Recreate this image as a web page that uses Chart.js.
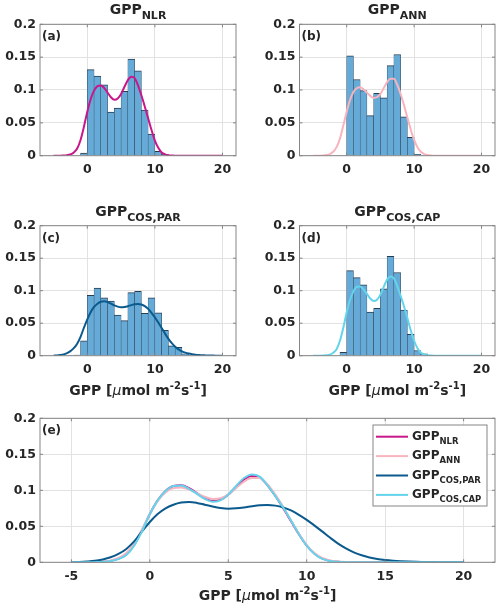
<!DOCTYPE html>
<html>
<head>
<meta charset="utf-8">
<script src="https://cdn.jsdelivr.net/npm/chart.js@4.4.1/dist/chart.umd.min.js"></script>
<style>
  html, body { margin: 0; padding: 0; background: #fff; }
  #wrap { position: relative; width: 500px; height: 608px; overflow: hidden; }
  .pane { position: absolute; }
</style>
</head>
<body>
<div id="wrap">
  <div class="pane" style="left:0;top:0"><canvas id="pa"></canvas></div>
  <div class="pane" style="left:250px;top:0"><canvas id="pb"></canvas></div>
  <div class="pane" style="left:0;top:185px"><canvas id="pc"></canvas></div>
  <div class="pane" style="left:250px;top:185px"><canvas id="pd"></canvas></div>
  <div class="pane" style="left:0;top:405px"><canvas id="pe"></canvas></div>
</div>
<script>
// ---- data ----
const kdeX = [-5,-4.5,-4,-3.5,-3,-2.5,-2,-1.5,-1,-0.5,0,0.5,1,1.5,2,2.5,3,3.5,4,4.5,5,5.5,6,6.5,7,7.5,8,8.5,9,9.5,10,10.5,11,11.5,12,12.5,13,13.5,14,14.5,15,15.5,16,16.5,17,17.5,18,18.5,19,19.5,20];

const kdeNLR = [0,0,0,0.0003,0.0008,0.002,0.005,0.011,0.024,0.044,0.067,0.086,0.099,0.106,0.107,0.103,0.096,0.089,0.085,0.087,0.094,0.105,0.115,0.120,0.118,0.107,0.092,0.075,0.057,0.039,0.023,0.012,0.005,0.002,0.0007,0.0002,0,0,0,0,0,0,0,0,0,0,0,0,0,0,0];
const kdeANN = [0,0,0,0.0003,0.001,0.0025,0.006,0.013,0.026,0.046,0.067,0.085,0.097,0.103,0.104,0.101,0.096,0.091,0.088,0.089,0.094,0.103,0.112,0.117,0.117,0.108,0.094,0.077,0.058,0.040,0.024,0.013,0.006,0.0025,0.001,0.0003,0,0,0,0,0,0,0,0,0,0,0,0,0,0,0];
const kdePAR = [0.0001,0.0004,0.001,0.002,0.004,0.007,0.0116,0.0185,0.029,0.043,0.056,0.067,0.075,0.080,0.083,0.0838,0.0825,0.080,0.0775,0.0755,0.0745,0.075,0.0762,0.0778,0.0792,0.0797,0.0787,0.0762,0.072,0.066,0.059,0.051,0.0426,0.034,0.026,0.0193,0.0138,0.0097,0.0068,0.0047,0.0033,0.0023,0.0016,0.0011,0.0007,0.0005,0.0003,0.0002,0.0001,0.00005,0];
const kdeCAP = [0,0,0,0.0002,0.0006,0.0017,0.0045,0.010,0.023,0.043,0.067,0.086,0.099,0.106,0.1065,0.102,0.095,0.088,0.084,0.086,0.094,0.106,0.117,0.122,0.119,0.107,0.092,0.076,0.058,0.039,0.023,0.0115,0.0047,0.0018,0.0006,0.0002,0,0,0,0,0,0,0,0,0,0,0,0,0,0,0];

// histograms: unit-width bins, first bin's left edge
const histStartA = -1;
const histA = [0.004,0.131,0.121,0.108,0.0665,0.0726,0.098,0.147,0.129,0.0695,0.033,0.0066,0.002];
const histStartB = 0;
const histB = [0.152,0.116,0.099,0.061,0.095,0.088,0.137,0.154,0.059,0.028,0.002];
const histStartC = -2;
const histC = [0.001,0.023,0.093,0.104,0.089,0.084,0.0625,0.054,0.097,0.099,0.065,0.089,0.066,0.039,0.015,0.013,0.003];
const histStartD = -1;
const histD = [0.005,0.131,0.120,0.109,0.067,0.073,0.103,0.153,0.128,0.070,0.033,0.008,0.003];

const xTicksSmall = [0, 10, 20];
const xTicksWide  = [-5, 0, 5, 10, 15, 20];
const yTicks      = [0, 0.05, 0.1, 0.15, 0.2];
const xMin = -7, xMax = 22, yMin = 0, yMax = 0.2;

const seriesNames = ['NLR', 'ANN', 'COS,PAR', 'COS,CAP'];

// ---- style ----
const FAM      = "'DejaVu Sans', sans-serif";
const INK      = '#262626';
const GRID     = '#e2e2e2';
const FRAME    = '#858585';
const BAR_FILL = '#66aad7';
const BAR_EDGE = '#2a3d50';
const COL = { NLR: '#c8168b', ANN: '#f8b4be', PAR: '#0b5a8d', CAP: '#64d4ec' };

function pts(xs, ys) { return xs.map((x, i) => ({ x, y: ys[i] })); }

function bars(start, h) {
  return {
    type: 'bar',
    data: h.map((v, i) => ({ x: start + i + 0.5, y: v })),
    backgroundColor: BAR_FILL,
    borderColor: BAR_EDGE,
    borderWidth: { top: 1, left: 0.5, right: 0.5, bottom: 0 },
    barPercentage: 1,
    categoryPercentage: 1,
    order: 1,
  };
}

function curve(ys, color, order) {
  return {
    type: 'line',
    data: pts(kdeX, ys),
    borderColor: color,
    borderWidth: 2,
    pointRadius: 0,
    fill: false,
    cubicInterpolationMode: 'monotone',
    order,
  };
}

// draw a run of text pieces (for sub/superscripts)
function richText(ctx, parts, x, y, align) {
  let w = 0;
  parts.forEach(p => { ctx.font = p.font; p.w = ctx.measureText(p.t).width; w += p.w; });
  let cx = align === 'center' ? x - w / 2 : x;
  ctx.textAlign = 'left';
  ctx.textBaseline = 'alphabetic';
  parts.forEach(p => { ctx.font = p.font; ctx.fillText(p.t, cx, y + (p.dy || 0)); cx += p.w; });
}

const bold = s => `bold ${s}px ${FAM}`;
const gppParts = (sub, big, small, dy) => [
  { t: 'GPP', font: bold(big) },
  { t: sub, font: bold(small), dy },
];
const unitParts = [
  { t: 'GPP [', font: bold(14) },
  { t: '\u03bc', font: `italic 14px ${FAM}` },
  { t: 'mol m', font: bold(14) },
  { t: '-2', font: bold(10), dy: -6 },
  { t: 's', font: bold(14) },
  { t: '-1', font: bold(10), dy: -6 },
  { t: ']', font: bold(14) },
];

function decorations(o) {
  return {
    id: 'decor',
    afterDraw(chart) {
      const ctx = chart.ctx, a = chart.chartArea;
      const sx = chart.scales.x, sy = chart.scales.y;
      ctx.save();
      // box + inward ticks
      ctx.strokeStyle = FRAME;
      ctx.lineWidth = 1;
      ctx.strokeRect(a.left, a.top, a.right - a.left, a.bottom - a.top);
      ctx.beginPath();
      o.xTicks.forEach(v => {
        const px = sx.getPixelForValue(v);
        ctx.moveTo(px, a.bottom); ctx.lineTo(px, a.bottom - 3);
        ctx.moveTo(px, a.top); ctx.lineTo(px, a.top + 3);
      });
      yTicks.forEach(v => {
        const py = sy.getPixelForValue(v);
        ctx.moveTo(a.left, py); ctx.lineTo(a.left + 3, py);
        ctx.moveTo(a.right, py); ctx.lineTo(a.right - 3, py);
      });
      ctx.stroke();

      ctx.fillStyle = INK;
      if (o.title) richText(ctx, gppParts(o.title, 14, 11, 5), (a.left + a.right) / 2, a.top - 10, 'center');
      ctx.font = bold(12);
      ctx.textAlign = 'left';
      ctx.fillText(o.letter, a.left + 2, a.top + 16);
      if (o.xlabel) richText(ctx, unitParts, (a.left + a.right) / 2, o.xlabel, 'center');

      if (o.legend) {
        const L = { x: a.right - 122, y: a.top + 6.7, w: 114, h: 81 };
        ctx.fillStyle = '#fff';
        ctx.fillRect(L.x, L.y, L.w, L.h);
        ctx.strokeStyle = FRAME;
        ctx.strokeRect(L.x, L.y, L.w, L.h);
        o.legend.forEach((it, i) => {
          const ly = L.y + 11.7 + i * 19.4;
          ctx.strokeStyle = it.color;
          ctx.lineWidth = 2;
          ctx.beginPath();
          ctx.moveTo(L.x + 3, ly); ctx.lineTo(L.x + 35, ly);
          ctx.stroke();
          ctx.fillStyle = INK;
          richText(ctx, gppParts(it.name, 12, 8.5, 4), L.x + 39, ly + 3, 'left');
        });
      }
      ctx.restore();
    },
  };
}

function panel(id, o) {
  const cv = document.getElementById(id);
  cv.width = o.w; cv.height = o.h;
  const tickFont = { family: FAM, size: 12.5, weight: 'bold' };
  return new Chart(cv, {
    type: o.type,
    data: { datasets: o.datasets },
    options: {
      responsive: false,
      animation: false,
      events: [],
      layout: { padding: { left: 0, right: o.w - o.area.r, top: o.area.t, bottom: 0 } },
      plugins: { legend: { display: false }, tooltip: { enabled: false } },
      scales: {
        x: {
          type: 'linear', min: xMin, max: xMax, offset: false,
          afterBuildTicks: s => { s.ticks = o.xTicks.map(v => ({ value: v })); },
          afterFit: s => { s.height = o.h - o.area.b; },
          grid: { color: GRID, drawTicks: false, offset: false },
          border: { display: false },
          ticks: { font: tickFont, color: INK, padding: 7, maxRotation: 0, autoSkip: false, callback: v => String(v) },
        },
        y: {
          type: 'linear', min: yMin, max: yMax,
          afterBuildTicks: s => { s.ticks = yTicks.map(v => ({ value: v })); },
          afterFit: s => { s.width = o.area.l; },
          grid: { color: GRID, drawTicks: false },
          border: { display: false },
          ticks: { font: tickFont, color: INK, padding: 4, autoSkip: false, callback: v => String(v) },
        },
      },
    },
    plugins: [decorations(o)],
  });
}

const topArea = { t: 24.3, b: 155.7 };
const midArea = { t: 40.7, b: 170.7 };

panel('pa', { type: 'bar', w: 250, h: 185, area: { l: 40, r: 236, ...topArea }, xTicks: xTicksSmall,
  title: seriesNames[0], letter: '(a)',
  datasets: [bars(histStartA, histA), curve(kdeNLR, COL.NLR, 0)] });

panel('pb', { type: 'bar', w: 250, h: 185, area: { l: 49.5, r: 245, ...topArea }, xTicks: xTicksSmall,
  title: seriesNames[1], letter: '(b)',
  datasets: [bars(histStartB, histB), curve(kdeANN, COL.ANN, 0)] });

panel('pc', { type: 'bar', w: 250, h: 220, area: { l: 40, r: 236, ...midArea }, xTicks: xTicksSmall,
  title: seriesNames[2], letter: '(c)', xlabel: 210,
  datasets: [bars(histStartC, histC), curve(kdePAR, COL.PAR, 0)] });

panel('pd', { type: 'bar', w: 250, h: 220, area: { l: 49.5, r: 245, ...midArea }, xTicks: xTicksSmall,
  title: seriesNames[3], letter: '(d)', xlabel: 210,
  datasets: [bars(histStartD, histD), curve(kdeCAP, COL.CAP, 0)] });

panel('pe', { type: 'line', w: 500, h: 203, area: { l: 40, r: 495, t: 13.3, b: 157.3 }, xTicks: xTicksWide,
  letter: '(e)', xlabel: 195,
  legend: [
    { name: seriesNames[0], color: COL.NLR },
    { name: seriesNames[1], color: COL.ANN },
    { name: seriesNames[2], color: COL.PAR },
    { name: seriesNames[3], color: COL.CAP },
  ],
  datasets: [
    curve(kdeNLR, COL.NLR, 4),
    curve(kdeANN, COL.ANN, 3),
    curve(kdePAR, COL.PAR, 2),
    curve(kdeCAP, COL.CAP, 1),
  ] });
</script>
</body>
</html>
